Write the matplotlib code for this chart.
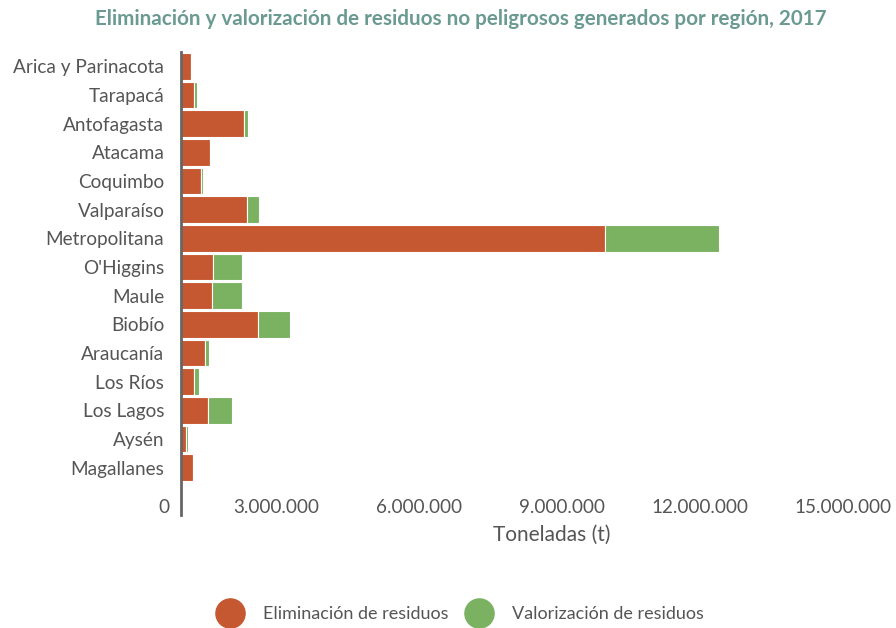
import matplotlib.pyplot as plt
import matplotlib.transforms as mtransforms
from matplotlib.lines import Line2D
import numpy as np

plt.rcParams['font.family'] = ['Lato', 'DejaVu Sans']

regiones = ['Arica y Parinacota', 'Tarapacá', 'Antofagasta', 'Atacama', 'Coquimbo',
            'Valparaíso', 'Metropolitana', "O'Higgins", 'Maule', 'Biobío',
            'Araucanía', 'Los Ríos', 'Los Lagos', 'Aysén', 'Magallanes']
eliminacion = [220000, 270000, 1330000, 610000, 420000,
               1380000, 8890000, 670000, 650000, 1610000,
               500000, 270000, 570000, 100000, 250000]
valorizacion = [0, 60000, 70000, 0, 50000,
                260000, 2390000, 620000, 640000, 670000,
                90000, 110000, 490000, 50000, 0]
ticks = [0, 3000000, 6000000, 9000000, 12000000, 15000000]
tick_labels = ['0', '3.000.000', '6.000.000', '9.000.000', '12.000.000', '15.000.000']

rojo = '#c55830'
verde = '#7ab262'
gris = '#555555'

fig = plt.figure(figsize=(8.96, 6.28), dpi=100)
ax = fig.add_axes([181 / 896, 1 - 482 / 628, 715 / 896, 430 / 628])

y = np.arange(len(regiones))
ax.barh(y, eliminacion, height=0.92, color=rojo, edgecolor='white', linewidth=0.8)
ax.barh(y, valorizacion, left=eliminacion, height=0.92, color=verde,
        edgecolor='white', linewidth=0.8)

ax.set_ylim(len(regiones) - 0.5, -0.5)
ax.set_xlim(0, 15000000)
ax.set_yticks(y)
ax.set_yticklabels(regiones, fontsize=13.7, color=gris)
ax.tick_params(axis='y', length=0, pad=12)
ax.set_xticks(ticks)
ax.set_xticklabels(tick_labels, fontsize=13.6, color=gris, ha='right')
ax.tick_params(axis='x', length=0, pad=12)
for i, lab in enumerate(ax.get_xticklabels()):
    dx = -12 if i == 0 else -5
    offset = mtransforms.ScaledTranslation(dx / 100, 0, fig.dpi_scale_trans)
    lab.set_transform(lab.get_transform() + offset)

for s in ax.spines.values():
    s.set_visible(False)
ax.plot([0, 0], [-0.5, 15.65], color='#666666', linewidth=2, clip_on=False,
        transform=ax.transData)

fig.text(552 / 896, 1 - 535 / 628, 'Toneladas (t)', ha='center', va='center',
         fontsize=15, color=gris)
fig.text(461 / 896, 1 - 19 / 628,
         'Eliminación y valorización de residuos no peligrosos generados por región, 2017',
         ha='center', va='center', fontsize=14.9, fontweight='bold', color='#6a9a90')

handles = [Line2D([], [], marker='o', linestyle='none', markersize=21, color=rojo),
           Line2D([], [], marker='o', linestyle='none', markersize=21, color=verde)]
fig.legend(handles, ['Eliminación de residuos', 'Valorización de residuos'],
           loc='center', bbox_to_anchor=(458 / 896, 1 - 614 / 628), ncol=2,
           frameon=False, fontsize=13, labelcolor=gris, handletextpad=0.8,
           columnspacing=0.7)

fig.savefig('out.png', dpi=100)
